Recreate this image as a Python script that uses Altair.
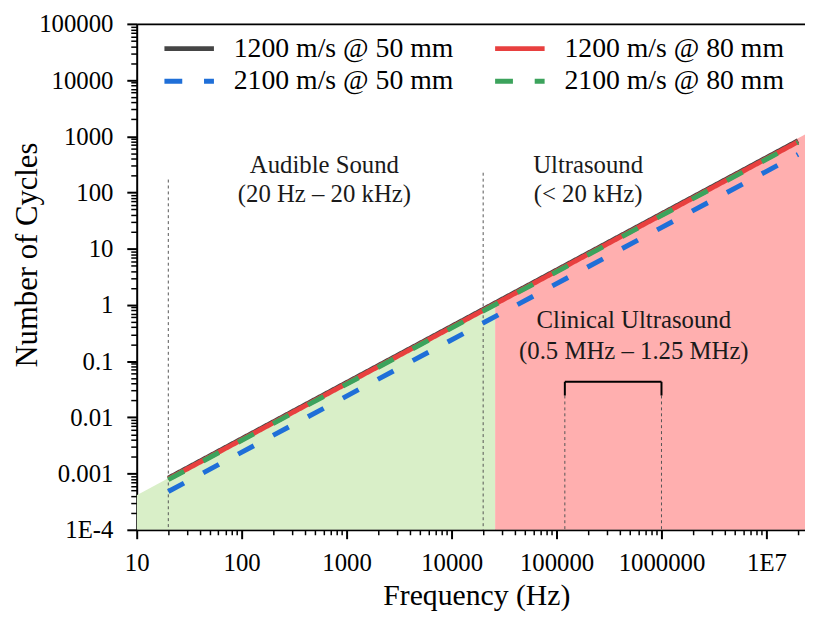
import json
import altair as alt
import pandas as pd

# ---------------- data ----------------
series_names = ["1200 m/s @ 50 mm", "1200 m/s @ 80 mm", "2100 m/s @ 50 mm", "2100 m/s @ 80 mm"]
series_colors = ["#454545", "#e8403f", "#1f6fd8", "#3ca35c"]
series_dash = [[1, 0], [1, 0], [18, 22], [18, 22]]

line_freq = [20, 2.0e7]
cycles_1200_50 = [8.3e-4, 834]
cycles_1200_80 = [8.0e-4, 800]
cycles_2100_50 = [4.8e-4, 476]
cycles_2100_80 = [7.8e-4, 780]

audible_fill_freq = [10, 2.6e4]
audible_fill_top = [4.1e-4, 1.13]
ultra_fill_freq = [2.6e4, 2.33e7]
ultra_fill_top = [1.13, 1080]

divider_freq = [20, 20000, 1.2e5, 1.0e6]
divider_top = [170, 225, 0.0245, 0.0245]

bracket_freq = [1.2e5, 1.0e6]
bracket_top = 0.043
bracket_bottom = 0.0245

ann_text = ["Audible Sound", "(20 Hz \u2013 20 kHz)", "Ultrasound", "(< 20 kHz)",
            "Clinical Ultrasound", "(0.5 MHz \u2013 1.25 MHz)"]
ann_freq = [614, 614, 2.0e5, 2.0e5, 5.45e5, 5.45e5]
ann_cycles = [308, 92, 308, 92, 0.54, 0.15]

x_major = [10, 100, 1000, 10000, 100000, 1000000, 10000000]
x_labels = ["10", "100", "1000", "10000", "100000", "1000000", "1E7"]
y_major = [1e-4, 1e-3, 1e-2, 1e-1, 1, 10, 100, 1000, 10000, 100000]
y_labels = ["1E-4", "0.001", "0.01", "0.1", "1", "10", "100", "1000", "10000", "100000"]
x_minor = [m * 10 ** k for k in range(1, 8) for m in range(2, 10)]
y_minor = [m * 10.0 ** k for k in range(-4, 5) for m in range(2, 10)]

X_DOMAIN = [10, 2.33e7]
Y_DOMAIN = [1e-4, 1e5]
FONT = "Liberation Serif"

# ---------------- frames ----------------
series_vals = [cycles_1200_50, cycles_1200_80, cycles_2100_50, cycles_2100_80]
lines_df = pd.DataFrame(
    [{"f": f, "c": v, "series": s, "ord": i}
     for i, (s, vals) in enumerate(zip(series_names, series_vals))
     for f, v in zip(line_freq, vals)]
)
green_df = pd.DataFrame({"f": audible_fill_freq, "top": audible_fill_top, "base": Y_DOMAIN[0]})
red_df = pd.DataFrame({"f": ultra_fill_freq, "top": ultra_fill_top, "base": Y_DOMAIN[0]})
div_df = pd.DataFrame({"f": divider_freq, "top": divider_top, "base": Y_DOMAIN[0]})
br_h_df = pd.DataFrame({"f": [bracket_freq[0]], "f2": [bracket_freq[1]], "y": [bracket_top]})
br_v_df = pd.DataFrame({"f": bracket_freq, "top": bracket_top, "bot": bracket_bottom})
ann_df = pd.DataFrame({"f": ann_freq, "c": ann_cycles, "t": ann_text})

xs = alt.Scale(type="log", domain=X_DOMAIN, nice=False)
ys = alt.Scale(type="log", domain=Y_DOMAIN, nice=False)

x_label_expr = f"{json.dumps(x_labels)}[round(log(datum.value)/LN10) - 1]"
y_label_expr = f"{json.dumps(y_labels)}[round(log(datum.value)/LN10) + 4]"

major_x = alt.Axis(orient="bottom", values=x_major, labelExpr=x_label_expr, tickSize=9, tickWidth=2,
                   tickColor="black", domainColor="black", domainWidth=2, labelFont=FONT,
                   labelFontSize=25, labelColor="black", labelPadding=12, grid=False,
                   title="Frequency (Hz)", titleFont=FONT, titleFontSize=30, titleFontWeight="normal",
                   titleColor="black", titleX=343, titleY=75, titleBaseline="alphabetic",
                   titleAlign="center", labelFlush=False, labelOverlap=False)
major_y = alt.Axis(orient="left", values=y_major, labelExpr=y_label_expr, tickSize=10, tickWidth=2,
                   tickColor="black", domainColor="black", domainWidth=2, labelFont=FONT,
                   labelFontSize=25, labelColor="black", labelPadding=14, grid=False,
                   title="Number of Cycles", titleFont=FONT, titleFontSize=31, titleFontWeight="normal",
                   titleColor="black", titleX=-101, titleY=233, titleBaseline="alphabetic",
                   titleAlign="center", titleAngle=270, labelFlush=False, labelOverlap=False)
minor_x = alt.Axis(orient="bottom", values=x_minor, labels=False, domain=False, tickSize=5,
                   tickWidth=1.5, tickColor="black", grid=False, title=None)
minor_y = alt.Axis(orient="left", values=y_minor, labels=False, domain=False, tickSize=6,
                   tickWidth=1.5, tickColor="black", grid=False, title=None)
top_x = alt.Axis(orient="top", labels=False, ticks=False, domain=True, domainColor="black",
                 domainWidth=2, grid=False, title=None)

green = alt.Chart(green_df).mark_area(color="#d9efc8", clip=True).encode(
    x=alt.X("f:Q", scale=xs, axis=major_x),
    y=alt.Y("top:Q", scale=ys, axis=major_y),
    y2="base:Q",
)
red = alt.Chart(red_df).mark_area(color="#ffafaf", clip=True).encode(
    x=alt.X("f:Q", scale=xs, axis=minor_x),
    y=alt.Y("top:Q", scale=ys, axis=minor_y),
    y2="base:Q",
)
dividers = alt.Chart(div_df).mark_rule(color="#555555", strokeWidth=1, strokeDash=[3, 3]).encode(
    x=alt.X("f:Q", scale=xs, axis=None),
    y=alt.Y("top:Q", scale=ys, axis=None),
    y2="base:Q",
)
br_h = alt.Chart(br_h_df).mark_rule(color="black", strokeWidth=2).encode(
    x=alt.X("f:Q", scale=xs, axis=None),
    x2="f2:Q",
    y=alt.Y("y:Q", scale=ys, axis=None),
)
br_v = alt.Chart(br_v_df).mark_rule(color="black", strokeWidth=2).encode(
    x=alt.X("f:Q", scale=xs, axis=None),
    y=alt.Y("top:Q", scale=ys, axis=None),
    y2="bot:Q",
)

legend_spec = alt.Legend(orient="none", legendX=38, legendY=10, columns=2, direction="horizontal",
                         title=None, symbolType="M-2,0H2", symbolSize=625, symbolStrokeWidth=5,
                         labelFont=FONT, labelFontSize=28, labelColor="black", labelOffset=30,
                         columnPadding=32, rowPadding=4, padding=0, labelLimit=400)

lines = alt.Chart(lines_df).mark_line(strokeWidth=5, strokeCap="butt", clip=True).encode(
    x=alt.X("f:Q", scale=xs, axis=top_x),
    y=alt.Y("c:Q", scale=ys, axis=None),
    color=alt.Color("series:N", scale=alt.Scale(domain=series_names, range=series_colors),
                    legend=legend_spec),
    strokeDash=alt.StrokeDash("series:N", scale=alt.Scale(domain=series_names, range=series_dash),
                              legend=legend_spec),
    order="ord:Q",
)

texts = alt.Chart(ann_df).mark_text(font=FONT, fontSize=25, color="#1a1a1a", baseline="middle",
                                    align="center").encode(
    x=alt.X("f:Q", scale=xs, axis=None),
    y=alt.Y("c:Q", scale=ys, axis=None),
    text="t:N",
)

chart = (
    alt.layer(green, red, dividers, br_h, br_v, lines, texts)
    .resolve_axis(x="independent", y="independent")
    .properties(width=675, height=511, autosize="none",
                padding={"left": 130, "top": 13, "right": 0, "bottom": 81},
                background="white")
    .configure_view(stroke=None)
    .configure(font=FONT)
)

chart.save("out.html", embed_options={"renderer": "svg", "actions": False})
